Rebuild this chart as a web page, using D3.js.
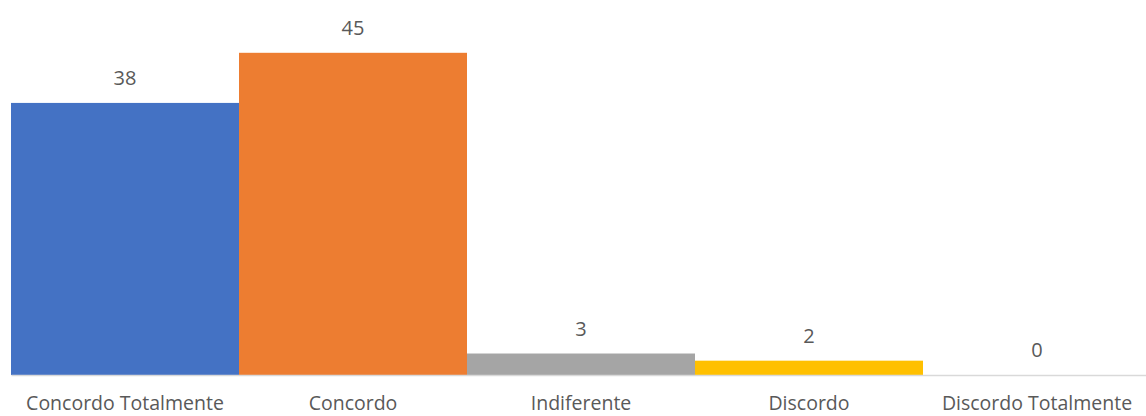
<!DOCTYPE html>
<html>
<head>
<meta charset="utf-8">
<script src="https://cdn.jsdelivr.net/npm/d3@7"></script>
<style>
  html, body { margin: 0; padding: 0; background: #fff; }
  svg { display: block; }
  text { font-family: "Open Sans", "Noto Sans", sans-serif; fill: #595959; }
</style>
</head>
<body>
<svg id="chart" width="1146" height="416"></svg>
<script>
// Responses per agreement level
const categories = ["Concordo Totalmente", "Concordo", "Indiferente", "Discordo", "Discordo Totalmente"];
const counts = [38, 45, 3, 2, 0];
const colors = ["#4472C4", "#ED7D31", "#A5A5A5", "#FFC000", "#5B9BD5"];

const svg = d3.select("#chart");

const x = d3.scaleBand()
  .domain(categories)
  .range([11, 1151])
  .paddingInner(0)
  .paddingOuter(0);

const y = d3.scaleLinear()
  .domain([0, 50])
  .range([375, 17]);

// Bars
svg.append("g")
  .selectAll("rect")
  .data(categories)
  .join("rect")
  .attr("x", d => x(d))
  .attr("width", x.bandwidth())
  .attr("y", (d, i) => y(counts[i]))
  .attr("height", (d, i) => y(0) - y(counts[i]))
  .attr("fill", (d, i) => colors[i]);

// Baseline axis
const axis = svg.append("g")
  .attr("transform", `translate(0,${y(0)})`)
  .call(d3.axisBottom(x).tickSize(0).tickPadding(0));
axis.select(".domain").attr("stroke", "#D9D9D9").attr("stroke-width", 1.5);
axis.selectAll(".tick text")
  .attr("y", 35)
  .attr("dy", 0)
  .style("font-size", "19.5px")
  .style("font-family", "'Open Sans', 'Noto Sans', sans-serif")
  .attr("fill", "#595959");

// Value labels above bars
svg.append("g")
  .selectAll("text")
  .data(categories)
  .join("text")
  .attr("x", d => x(d) + x.bandwidth() / 2)
  .attr("y", (d, i) => y(counts[i]) - 18)
  .attr("text-anchor", "middle")
  .style("font-size", "20px")
  .text((d, i) => counts[i]);
</script>
</body>
</html>
